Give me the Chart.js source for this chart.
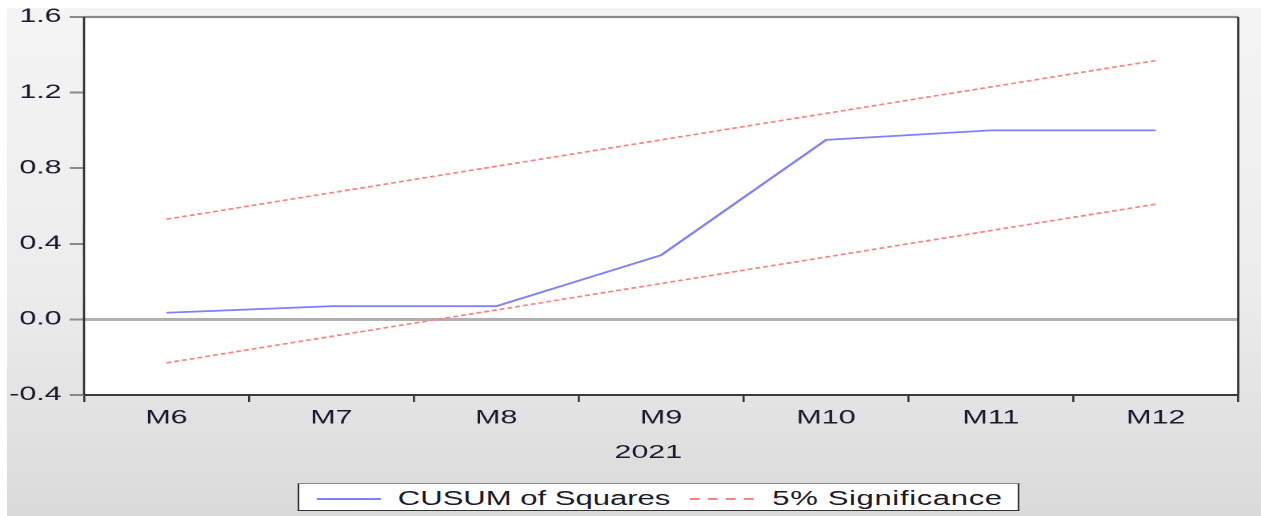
<!DOCTYPE html>
<html>
<head>
<meta charset="utf-8">
<script src="https://cdn.jsdelivr.net/npm/chart.js@4.4.1/dist/chart.umd.min.js"></script>
<style>
  html, body { margin: 0; padding: 0; background: #ffffff; width: 1261px; height: 516px; overflow: hidden; }
  #bg { position: absolute; left: 7px; top: 8px; width: 1254px; height: 508px;
        background: linear-gradient(to bottom, #f4f4f4 0%, #ececec 55%, #dadada 100%); }
  #wrap { position: absolute; left: 0; top: 0; width: 788px; height: 516px;
          transform: scaleX(1.6003); transform-origin: 0 0; }
  #c { position: absolute; left: 0; top: 0; }
  .txt { font-family: 'Liberation Sans', Arial, sans-serif; font-size: 19px; color: #1a1a2e; white-space: nowrap; }
  #xtitle { position: absolute; left: 384px; width: 40px; text-align: center; top: 441px; line-height: 22px; }
  #legend { position: absolute; left: 185.6px; top: 483px; width: 451px; height: 28px;
            background: #ffffff; border: 1.3px solid #333; border-top: 1.6px solid #8a8a8a; box-sizing: border-box; }
  .sw { position: absolute; top: 14px; height: 0; width: 40px; }
  #sw1 { left: 11px; border-top: 2px solid #8080ff; }
  #sw2 { left: 244.5px; border-top: 2px dashed #ff8080; }
  .lt { position: absolute; top: 3px; line-height: 22px; font-size: 19.4px; }
  #lt1 { left: 62px; }
  #lt2 { left: 296px; letter-spacing: 0.4px; }
</style>
</head>
<body>
<div id="bg"></div>
<div id="wrap">
  <canvas id="c" width="788" height="516"></canvas>
  <div id="xtitle" class="txt">2021</div>
  <div id="legend">
    <div id="sw1" class="sw"></div><div id="lt1" class="lt txt">CUSUM of Squares</div>
    <div id="sw2" class="sw"></div><div id="lt2" class="lt txt">5% Significance</div>
  </div>
</div>
<script>
const categories = ['M6', 'M7', 'M8', 'M9', 'M10', 'M11', 'M12'];
const cusumSquares = [0.035, 0.07, 0.07, 0.34, 0.95, 1.00, 1.00];
const upperBound = [0.53, 0.67, 0.81, 0.95, 1.09, 1.23, 1.37];
const lowerBound = [-0.23, -0.09, 0.05, 0.19, 0.33, 0.47, 0.61];
const yTickValues = [-0.4, 0.0, 0.4, 0.8, 1.2, 1.6];

const FONT = { family: "'Liberation Sans', Arial, sans-serif", size: 19 };
const TEXT = '#1a1a2e';

const plotFrame = {
  id: 'plotFrame',
  beforeDraw(chart) {
    const { ctx, chartArea: a } = chart;
    ctx.save();
    ctx.fillStyle = '#ffffff';
    ctx.fillRect(a.left, a.top, a.right - a.left, a.bottom - a.top);
    ctx.restore();
  },
  afterDraw(chart) {
    const { ctx, chartArea: a } = chart;
    ctx.save();
    ctx.strokeStyle = '#8a8a8a';
    ctx.lineWidth = 2.2;
    ctx.beginPath(); ctx.moveTo(a.left, a.top); ctx.lineTo(a.right, a.top); ctx.stroke();
    ctx.strokeStyle = '#2a2a2a';
    ctx.lineWidth = 1.3;
    ctx.beginPath(); ctx.moveTo(a.left, a.top); ctx.lineTo(a.left, a.bottom); ctx.stroke();
    ctx.beginPath(); ctx.moveTo(a.right, a.top); ctx.lineTo(a.right, a.bottom); ctx.stroke();
    ctx.strokeStyle = '#3a3a3a';
    ctx.lineWidth = 2;
    ctx.beginPath(); ctx.moveTo(a.left, a.bottom); ctx.lineTo(a.right, a.bottom); ctx.stroke();
    ctx.restore();
  }
};

new Chart(document.getElementById('c'), {
  type: 'line',
  data: {
    labels: categories,
    datasets: [
      { label: 'CUSUM of Squares', data: cusumSquares, borderColor: '#8080ff', borderWidth: 1.8,
        pointRadius: 0, tension: 0, fill: false },
      { label: '5% Significance', data: upperBound, borderColor: '#ff8080', borderWidth: 1.7,
        borderDash: [3, 2], pointRadius: 0, tension: 0, fill: false },
      { label: '5% Significance (lower)', data: lowerBound, borderColor: '#ff8080', borderWidth: 1.7,
        borderDash: [3, 2], pointRadius: 0, tension: 0, fill: false }
    ]
  },
  options: {
    responsive: false,
    animation: false,
    devicePixelRatio: 2,
    layout: { padding: { left: 0, right: 14.25, top: 17, bottom: 0 } },
    plugins: { legend: { display: false }, tooltip: { enabled: false } },
    scales: {
      x: {
        type: 'category',
        offset: true,
        grid: { display: true, drawOnChartArea: false, offset: true, tickLength: 7,
                color: '#333', tickColor: '#333', lineWidth: 1.3, tickWidth: 1.3 },
        border: { display: false },
        ticks: { font: FONT, color: TEXT, padding: 5, maxRotation: 0, autoSkip: false },
        afterFit(scale) { scale.height = 121; }
      },
      y: {
        min: -0.4, max: 1.6,
        afterBuildTicks(scale) { scale.ticks = yTickValues.map(v => ({ value: v })); },
        grid: {
          drawOnChartArea: true, tickLength: 9,
          color: (c) => (c.tick && Math.abs(c.tick.value) < 1e-9) ? '#b0b0b0' : 'rgba(0,0,0,0)',
          lineWidth: (c) => (c.tick && Math.abs(c.tick.value) < 1e-9) ? 3 : 1,
          tickColor: '#8a8a8a', tickWidth: 2
        },
        border: { display: false },
        ticks: { font: FONT, color: TEXT, padding: 5, callback: (v) => Number(v).toFixed(1) },
        afterFit(scale) { scale.width = 52.5; }
      }
    }
  },
  plugins: [plotFrame]
});
</script>
</body>
</html>
